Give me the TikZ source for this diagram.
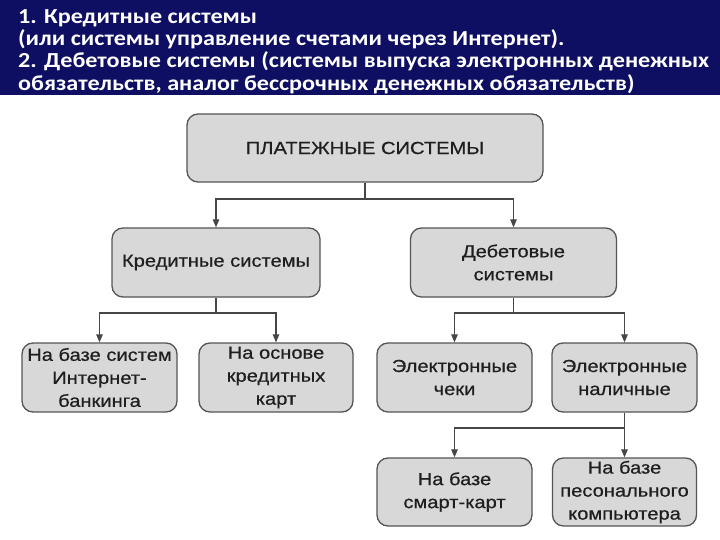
\documentclass[tikz,border=0pt]{standalone}
\usepackage{fontspec}
\setmainfont{Liberation Sans}
\newfontfamily\boxfont[FakeStretch=1.15,FakeBold=0.6]{Liberation Sans}
\newfontfamily\headfont[FakeStretch=1.13]{Carlito}
\usetikzlibrary{arrows.meta}
\definecolor{navy}{RGB}{14,14,98}
\definecolor{boxfill}{RGB}{216,216,216}
\definecolor{boxline}{RGB}{85,85,85}
\definecolor{lineclr}{RGB}{70,70,70}
\tikzset{
  box/.style={draw=boxline, line width=1.3pt, fill=boxfill, rounded corners=11pt,
    align=center, inner sep=0pt, text=black!88,
    font=\boxfont\fontsize{17.5}{23}\selectfont},
  conn/.style={draw=lineclr, line width=1.2pt},
  arr/.style={conn, -{Triangle[length=8pt,width=6.5pt]}},
  head/.style={anchor=base west, inner sep=0pt, text=white,
    font=\headfont\bfseries\fontsize{21.4}{21}\selectfont}
}
\begin{document}
\begin{tikzpicture}[x=1pt,y=-1pt]
\useasboundingbox (0,0) rectangle (720,540);
\fill[white] (0,0) rectangle (720,540);
\fill[navy] (0,0) rectangle (720,95);
\node[head] (h1) at (18,24) {1. Кредитные системы};
\node[head] (h2) at (18,46) {(или системы управление счетами через Интернет).};
\node[head] (h3) at (18,68) {2. Дебетовые системы (системы выпуска электронных денежных};
\node[head] (h4) at (18,90.5) {обязательств, аналог бессрочных денежных обязательств)};

\node[box, minimum width=356pt, minimum height=68pt] (top) at (365,148) {ПЛАТЕЖНЫЕ СИСТЕМЫ};
\node[box, minimum width=208pt, minimum height=69pt] (kred) at (216,262.5) {Кредитные системы};
\node[box, minimum width=206pt, minimum height=69pt] (deb) at (513.5,262.5) {Дебетовые\\системы};
\node[box, minimum width=155pt, minimum height=69pt] (a) at (99.5,377.5) {На базе систем\\Интернет-\\банкинга};
\node[box, minimum width=154pt, minimum height=69pt] (b) at (276,377.5) {На основе\\кредитных\\карт};
\node[box, minimum width=155pt, minimum height=69pt] (c) at (454.5,377.5) {Электронные\\чеки};
\node[box, minimum width=145pt, minimum height=69pt] (d) at (624.5,377.5) {Электронные\\наличные};
\node[box, minimum width=155pt, minimum height=68pt] (e) at (454.5,492) {На базе\\смарт-карт};
\node[box, minimum width=144pt, minimum height=68pt] (f) at (624.5,492) {На базе\\песонального\\компьютера};

\coordinate (j1) at (365,199);
\coordinate (j2) at (216,313);
\coordinate (j3) at (513.5,313);
\coordinate (j4) at (624.5,428);
\draw[conn] (top) -- (j1);
\draw[arr] (j1) -| (kred);
\draw[arr] (j1) -| (deb);
\draw[conn] (kred) -- (j2);
\draw[arr] (j2) -| (a);
\draw[arr] (j2) -| (b);
\draw[conn] (deb) -- (j3);
\draw[arr] (j3) -| (c);
\draw[arr] (j3) -| (d);
\draw[conn] (d) -- (j4);
\draw[arr] (j4) -| (e);
\draw[arr] (j4) -- (f);
\end{tikzpicture}
\end{document}
